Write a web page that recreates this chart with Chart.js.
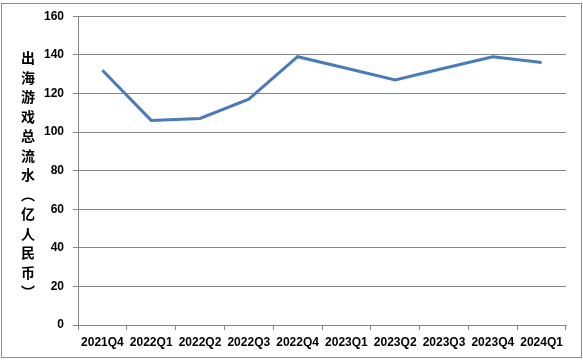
<!DOCTYPE html>
<html>
<head>
<meta charset="utf-8">
<script src="https://cdn.jsdelivr.net/npm/chart.js@4"></script>
<style>
  body { margin: 0; background: #fff; }
  #wrap { position: relative; width: 583px; height: 360px; }
  #frame { position: absolute; left: 1px; top: 3px; width: 579px; height: 353px; border: 1px solid #8c8c8c; pointer-events: none; }
  #ytitle {
    position: absolute; left: 21px; top: 51px;
    writing-mode: vertical-rl; text-orientation: mixed;
    font: bold 14px "Noto Sans CJK SC"; line-height: 14px;
    letter-spacing: 5.5px; color: #000;
  }
</style>
</head>
<body>
<div id="wrap">
  <canvas id="myChart" width="583" height="360"></canvas>
  <div id="frame"></div>
  <div id="ytitle">出海游戏总流水（亿人民币）</div>
</div>
<script>
const categories = ['2021Q4', '2022Q1', '2022Q2', '2022Q3', '2022Q4', '2023Q1', '2023Q2', '2023Q3', '2023Q4', '2024Q1'];
const revenue = [132, 106, 107, 117, 139, 133, 127, 133, 139, 136];
const yTicks = [0, 20, 40, 60, 80, 100, 120, 140, 160];

const gray = '#868686';
const tickFont = { family: 'Liberation Sans', size: 12, weight: 'bold' };

const data = {
  labels: categories,
  datasets: [{
    label: '出海游戏总流水（亿人民币）',
    data: revenue,
    borderColor: '#4a7bb7',
    backgroundColor: '#4a7bb7',
    borderWidth: 3,
    pointRadius: 0,
    tension: 0
  }]
};

const config = {
  type: 'line',
  data: data,
  options: {
    responsive: false,
    animation: false,
    layout: { padding: { left: 0, right: 17, top: 16, bottom: 0 } },
    plugins: { legend: { display: false }, tooltip: { enabled: false } },
    scales: {
      x: {
        offset: true,
        grid: { offset: true, drawOnChartArea: false, drawTicks: true, tickLength: 5, color: gray },
        border: { color: gray },
        ticks: { color: '#000', font: tickFont, padding: 5, maxRotation: 0, autoSkip: false },
        afterFit: (s) => { s.height = 35; }
      },
      y: {
        min: 0,
        max: 160,
        afterBuildTicks: (s) => { s.ticks = yTicks.map(v => ({ value: v })); },
        grid: { color: gray, tickLength: 5 },
        border: { color: gray },
        ticks: { color: '#000', font: tickFont, padding: 9 },
        afterFit: (s) => { s.width = 78; }
      }
    }
  }
};

const myChart = new Chart(document.getElementById('myChart'), config);
</script>
</body>
</html>
